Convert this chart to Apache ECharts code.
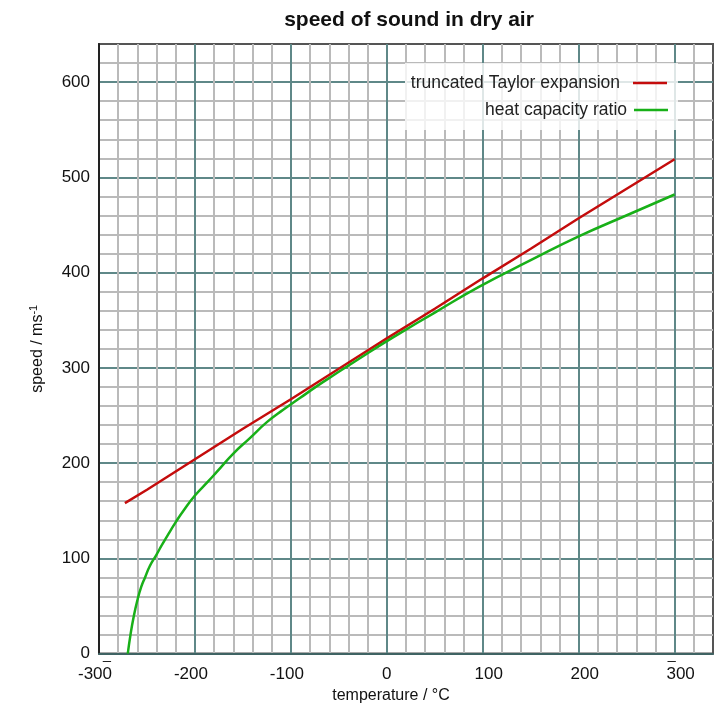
<!DOCTYPE html>
<html>
<head>
<meta charset="utf-8">
<script src="https://cdn.jsdelivr.net/npm/echarts@6/dist/echarts.min.js"></script>
<style>
html,body{margin:0;padding:0;background:#fff;}
#chart{width:717px;height:709px;}
</style>
</head>
<body>
<div id="chart"></div>
<script>
// Data
const seriesNames = ['truncated Taylor expansion', 'heat capacity ratio'];
const taylorTemps  = [-273, -250, -200, -150, -100, -50, 0, 50, 100, 150, 200, 250, 300];
const taylorSpeeds = [158, 172, 204, 236, 267, 299, 331, 362, 394, 425, 457, 488, 519];
const ratioTemps  = [-270, -267, -264, -260, -256, -252, -247, -240, -235, -228, -220, -212, -200, -186, -177, -160, -143, -125, -108, -91, -74, -56, -39, -22, 0, 13, 50, 96, 150, 200, 252, 300];
const ratioSpeeds = [0, 21, 38, 56, 70, 80, 92, 104, 113, 125, 138, 150, 166, 181, 191, 210, 226, 243, 256, 268, 280, 292, 303, 314, 328, 336, 358, 385, 413, 438, 461, 482];
const xTickLabels = [-300, -200, -100, 0, 100, 200, 300];
const yTickLabels = [0, 100, 200, 300, 400, 500, 600];

const font = "'Liberation Sans', Arial, sans-serif";
const teal = '#5f8888';
const gray = '#bababa';

const chart = echarts.init(document.getElementById('chart'), null, {renderer: 'canvas'});
chart.setOption({
  animation: false,
  backgroundColor: '#fff',
  title: {
    text: 'speed of sound in dry air',
    left: 404, top: 5, textAlign: 'center',
    textStyle: {fontFamily: font, fontWeight: 'bold', fontSize: 21, color: '#111'}
  },
  graphic: [{
    type: 'rect', z: 3,
    shape: {x: 405, y: 63, width: 273, height: 67},
    style: {fill: 'rgba(255,255,255,0.8)'}
  }],
  legend: [{
    data: [seriesNames[0]], orient: 'vertical', align: 'right', icon: 'rect',
    right: 50, top: 74, padding: 0, itemWidth: 34, itemHeight: 2.5, z: 5,
    textStyle: {fontFamily: font, fontSize: 17.5, color: '#222', padding: [0, 8, 0, 0]}
  }, {
    data: [seriesNames[1]], orient: 'vertical', align: 'right', icon: 'rect',
    right: 49, top: 101, padding: 0, itemWidth: 34, itemHeight: 2.5, z: 5,
    textStyle: {fontFamily: font, fontSize: 17.5, color: '#222', padding: [0, 2, 0, 0]}
  }],
  grid: {left: 99, right: 4, top: 44, bottom: 52, show: true, borderColor: '#555', borderWidth: 2, backgroundColor: 'transparent'},
  xAxis: {
    type: 'value', min: -300, max: 340, interval: 20,
    name: 'temperature / °C', nameLocation: 'middle', nameGap: 34,
    nameTextStyle: {fontFamily: font, fontSize: 16, color: '#111', padding: [0, 30, 0, 0]},
    axisLine: {show: true, onZero: false, lineStyle: {color: '#3f6363', width: 2}},
    axisTick: {show: false},
    splitLine: {show: true, showMinLine: false, showMaxLine: false, lineStyle: {color: [gray, gray, gray, gray, teal], width: 2}},
    axisLabel: {
      margin: 2, fontFamily: font, fontSize: 17, color: '#111',
      formatter: function (v) {
        if (xTickLabels.indexOf(v) < 0) return '';
        const d = (v === -300) ? '{d1|–}' : (v === 300 ? '{d2|–}' : '{d| }');
        const n = v < 0 ? '{neg|' + v + '}' : (v === 0 ? '{z|0}' : '{pos|' + v + '}');
        return d + '\n' + n;
      },
      rich: {
        d: {fontSize: 10, lineHeight: 10},
        d1: {fontSize: 15, lineHeight: 10, padding: [0, 0, 0, 16], color: '#222'},
        d2: {fontSize: 15, lineHeight: 10, padding: [0, 6, 0, 0], color: '#222'},
        neg: {fontFamily: font, fontSize: 17, lineHeight: 18, color: '#111', padding: [0, 8, 0, 0]},
        pos: {fontFamily: font, fontSize: 17, lineHeight: 18, color: '#111', padding: [0, 0, 0, 12]},
        z: {fontFamily: font, fontSize: 17, lineHeight: 18, color: '#111'}
      }
    }
  },
  yAxis: {
    type: 'value', min: 0, max: 640, interval: 20,
    name: 'speed / ms{sup|-1}', nameLocation: 'middle', nameGap: 52, nameRotate: 90,
    nameTextStyle: {fontFamily: font, fontSize: 16, color: '#111',
      rich: {sup: {fontFamily: font, fontSize: 11, verticalAlign: 'top', padding: [0, 0, 8, 0], color: '#111'}}},
    axisLine: {show: true, onZero: false, lineStyle: {color: '#222', width: 2}},
    axisTick: {show: false},
    splitLine: {show: true, showMinLine: false, showMaxLine: false, lineStyle: {color: [gray, gray, gray, gray, teal], width: 2}},
    axisLabel: {
      margin: 9, fontFamily: font, fontSize: 17, color: '#111',
      formatter: function (v) { return yTickLabels.indexOf(v) < 0 ? '' : String(v); }
    }
  },
  series: [{
    name: seriesNames[0], type: 'line', showSymbol: false, symbol: 'none', z: 3,
    data: taylorTemps.map((t, i) => [t, taylorSpeeds[i]]),
    lineStyle: {color: '#c40c0c', width: 2.5}, itemStyle: {color: '#c40c0c'}
  }, {
    name: seriesNames[1], type: 'line', showSymbol: false, symbol: 'none', smooth: 0.5, z: 4,
    data: ratioTemps.map((t, i) => [t, ratioSpeeds[i]]),
    lineStyle: {color: '#18b018', width: 2.5}, itemStyle: {color: '#18b018'}
  }]
});
</script>
</body>
</html>
